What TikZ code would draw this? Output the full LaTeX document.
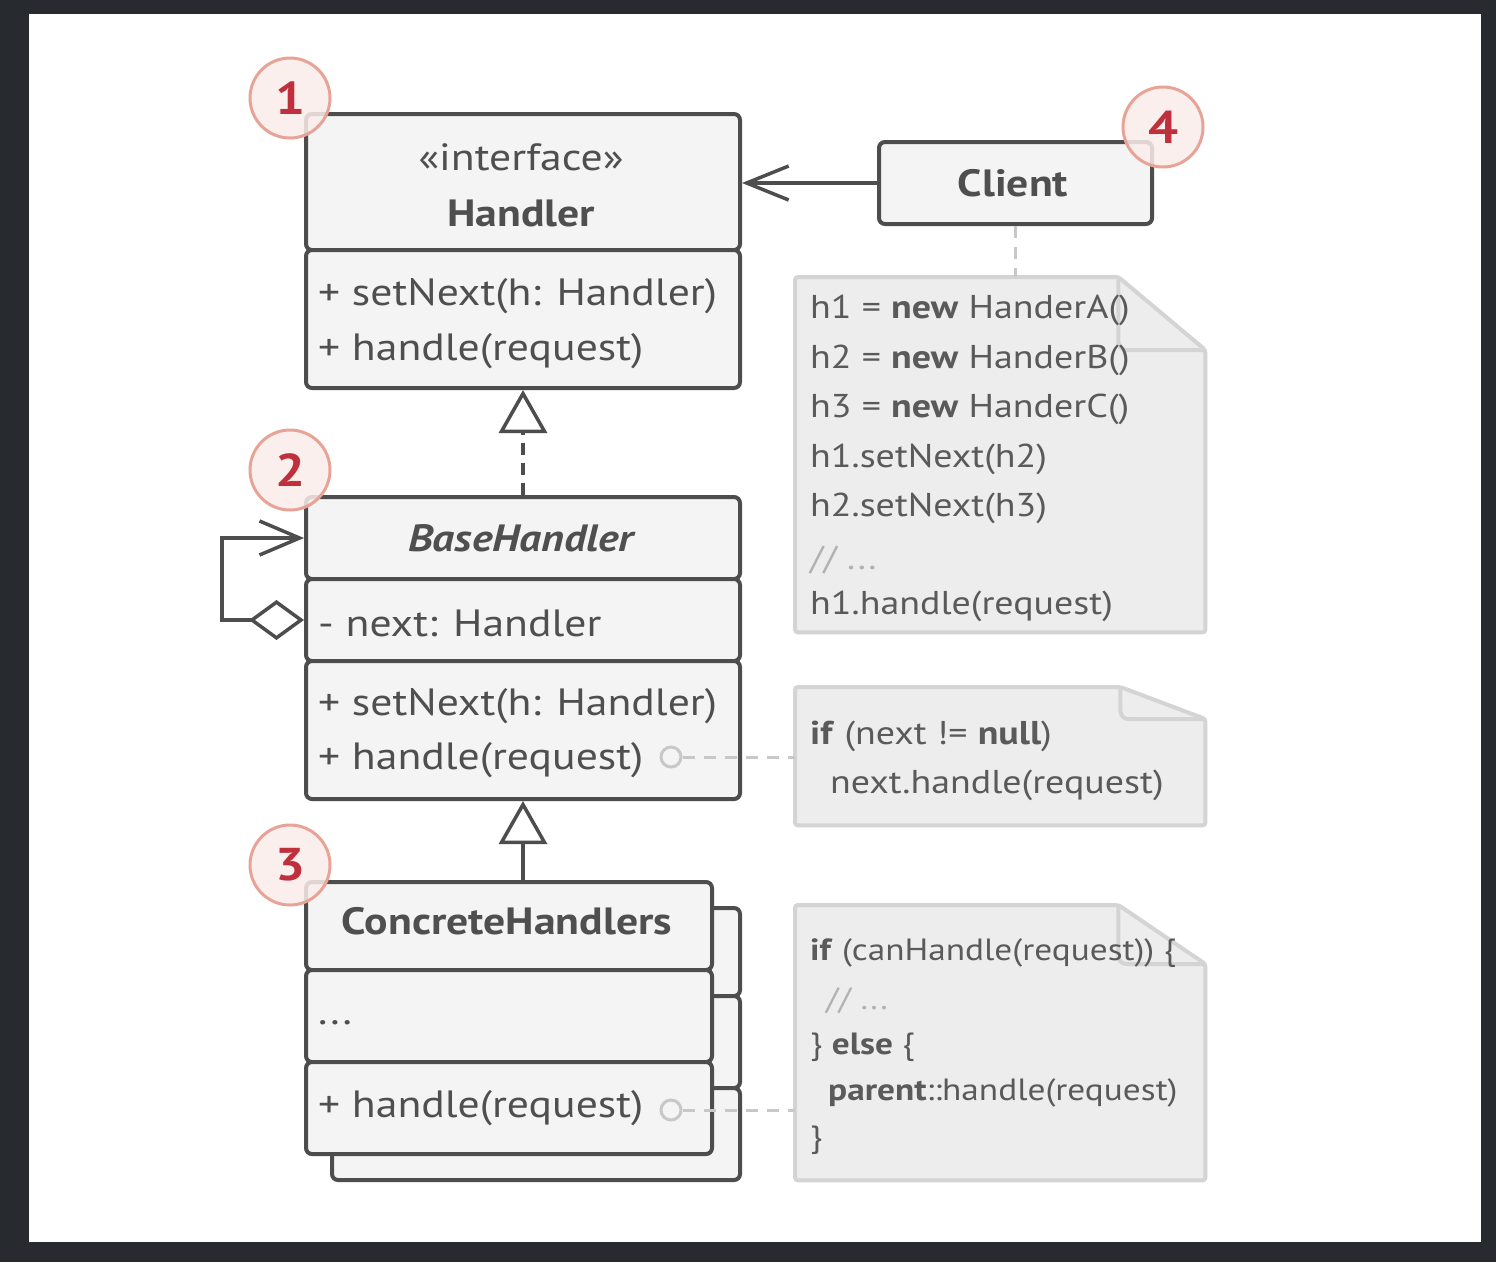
\documentclass[tikz,border=0pt]{standalone}
\usepackage{fontspec}
\setmainfont{PT Sans}[FakeStretch=1.15]
\usetikzlibrary{arrows.meta,positioning,calc}
\definecolor{frame}{HTML}{272B30}
\definecolor{boxline}{HTML}{4D4D4D}
\definecolor{boxfill}{HTML}{F4F4F4}
\definecolor{boxtext}{HTML}{4F4F4F}
\definecolor{notefill}{HTML}{EDEDED}
\definecolor{noteedge}{HTML}{D4D4D4}
\definecolor{notetext}{HTML}{5A5A5A}
\definecolor{dashgray}{HTML}{C8C8C8}
\definecolor{badgeline}{HTML}{E8A397}
\definecolor{badgefill}{HTML}{FBEDEB}
\definecolor{badgetext}{HTML}{BF2F3C}
\tikzset{
  part/.style={draw=boxline, fill=boxfill, line width=4pt, rounded corners=6pt, anchor=north west, inner sep=0pt, minimum width=434pt},
  lbl/.style={anchor=west, inner sep=0pt, yshift=-3pt, text=boxtext, font=\fontsize{38}{40}\selectfont},
  ttl/.style={inner sep=0pt, text=boxtext, font=\fontsize{38}{40}\selectfont\bfseries},
  badge/.style={circle, draw=badgeline, line width=3pt, fill=badgefill, fill opacity=0.85, text opacity=1, minimum size=80pt, inner sep=0pt, text=badgetext, font=\fontsize{46}{46}\selectfont\bfseries},
  code/.style={anchor=west, inner sep=0pt, yshift=-3pt, text=notetext, font=\fontsize{33}{35}\selectfont},
  smallcode/.style={code, font=\fontsize{30.7}{33}\selectfont},
  notebg/.style={anchor=north west, inner sep=0pt, minimum width=410pt},
  noteline/.style={draw=noteedge, fill=notefill, line width=4pt, rounded corners=3pt},
  noteflap/.style={draw=noteedge, line width=4pt, rounded corners=8pt},
  dots/.style={draw=dashgray, line width=3pt, dash pattern=on 12pt off 9pt},
  pin/.style={circle, draw=dashgray, line width=3pt, fill=boxfill, minimum size=20pt, inner sep=0pt},
  link/.style={draw=boxline, line width=3.5pt},
}
\newcommand\notepath[3]{%
  \path[noteline] (#1.north west) -- ([xshift=-#2]#1.north east) -- ([yshift=-#3]#1.north east) -- (#1.south east) -- (#1.south west) -- cycle;
  \draw[noteflap] ([xshift=-#2]#1.north east) -- ([xshift=-#2,yshift=-#3]#1.north east) -- ([yshift=-#3]#1.north east);}
\begin{document}
\begin{tikzpicture}[x=1pt,y=-1pt]
  \fill[frame] (0,0) rectangle (1496,1262);
  \useasboundingbox (0,0) rectangle (1496,1262);
  \fill[white] (29,14) rectangle (1481,1242);

  \node[part, minimum height=136pt] (hhead) at (304,112) {};
  \node[part, minimum height=138pt] (hmeth) at (304,248) {};
  \node[ttl, font=\fontsize{38}{40}\selectfont] (hstereo) at (521,157) {«interface»};
  \node[ttl] (hname) at (521,213) {Handler};
  \node[lbl] (hset) at (318,293) {+ setNext(h: Handler)};
  \node[lbl] (hhandle) at (318,348) {+ handle(request)};

  \node[part, minimum height=82pt] (bhead) at (304,495) {};
  \node[part, minimum height=82pt] (bfield) at (304,577) {};
  \node[part, minimum height=138pt] (bmeth) at (304,659) {};
  \node[ttl, font=\fontsize{38}{40}\selectfont\bfseries\itshape] (bname) at (521,538) {BaseHandler};
  \node[lbl] (bnext) at (318,620) {- next: Handler};
  \node[lbl] (bset) at (318,703) {+ setNext(h: Handler)};
  \node[lbl] (bhandle) at (318,757) {+ handle(request)};

  \node[part, minimum width=408pt, minimum height=88pt] (chead2) at (330,906) {};
  \node[part, minimum width=408pt, minimum height=92pt] (cmid2) at (330,994) {};
  \node[part, minimum width=408pt, minimum height=92pt] (cmeth2) at (330,1086) {};
  \node[part, minimum width=406pt, minimum height=88pt] (chead) at (304,880) {};
  \node[part, minimum width=406pt, minimum height=92pt] (cmid) at (304,968) {};
  \node[part, minimum width=406pt, minimum height=92pt] (cmeth) at (304,1060) {};
  \node[ttl] (cname) at (507,921) {ConcreteHandlers};
  \node[lbl] (cdots) at (318,1020) {...};
  \node[lbl] (chandle) at (318,1105) {+ handle(request)};

  \node[part, minimum width=273pt, minimum height=82pt] (client) at (877,140) {};
  \node[ttl] (cltname) at (1013,183) {Client};

  \node[notebg, minimum height=355pt] (n1) at (795,277) {};
  \node[notebg, minimum height=138pt] (n2) at (795,687) {};
  \node[notebg, minimum height=275pt] (n3) at (795,905) {};
  \notepath{n1}{87pt}{73pt}
  \notepath{n2}{85pt}{32pt}
  \notepath{n3}{87pt}{59pt}

  \node[code] (l1) at (810,307) {h1 = \textbf{new} HanderA()};
  \node[code] (l2) at (810,357) {h2 = \textbf{new} HanderB()};
  \node[code] (l3) at (810,406) {h3 = \textbf{new} HanderC()};
  \node[code] (l4) at (810,456) {h1.setNext(h2)};
  \node[code] (l5) at (810,505) {h2.setNext(h3)};
  \node[code, text=black!30] (l6) at (810,557) {// ...};
  \node[code] (l7) at (810,603) {h1.handle(request)};

  \node[code] (m1) at (810,733) {\textbf{if} (next != \textbf{null})};
  \node[code] (m2) at (830,782) {next.handle(request)};

  \node[smallcode] (k1) at (810,950) {\textbf{if} (canHandle(request)) \{};
  \node[smallcode, text=black!30] (k2) at (826,998) {// ...};
  \node[smallcode] (k3) at (810,1044) {\} \textbf{else} \{};
  \node[smallcode] (k4) at (828,1090) {\textbf{parent}::handle(request)};
  \node[smallcode] (k5) at (810,1137) {\}};

  \draw[link, dash pattern=on 12pt off 8pt, -{Triangle[length=43pt, width=48pt, fill=white]}] (bhead.north) -- (hmeth.south);
  \draw[link, -{Triangle[length=43pt, width=48pt, fill=white]}] (bmeth.south |- chead.north) -- (bmeth.south);
  \draw[link, {Diamond[length=55pt, width=40pt, fill=white]}-{Straight Barb[length=40pt, width=34pt]}] (bfield.west) -- ++(-82,0) |- (bhead.west);
  \draw[link, -{Straight Barb[length=42pt, width=34pt]}] (client.west) -- (client.west -| hhead.east);

  \draw[dots] (client.south) -- (client.south |- n1.north);
  \node[pin] (p1) at (671,757) {};
  \node[pin] (p2) at (671,1110) {};
  \draw[dots] (p1.east) -- (p1 -| n2.west);
  \draw[dots] (p2.east) -- (p2 -| n3.west);

  \node[badge] (b1) at (290,98) {1};
  \node[badge] (b2) at (290,470) {2};
  \node[badge] (b3) at (290,865) {3};
  \node[badge] (b4) at (1163,127) {4};
\end{tikzpicture}
\end{document}
